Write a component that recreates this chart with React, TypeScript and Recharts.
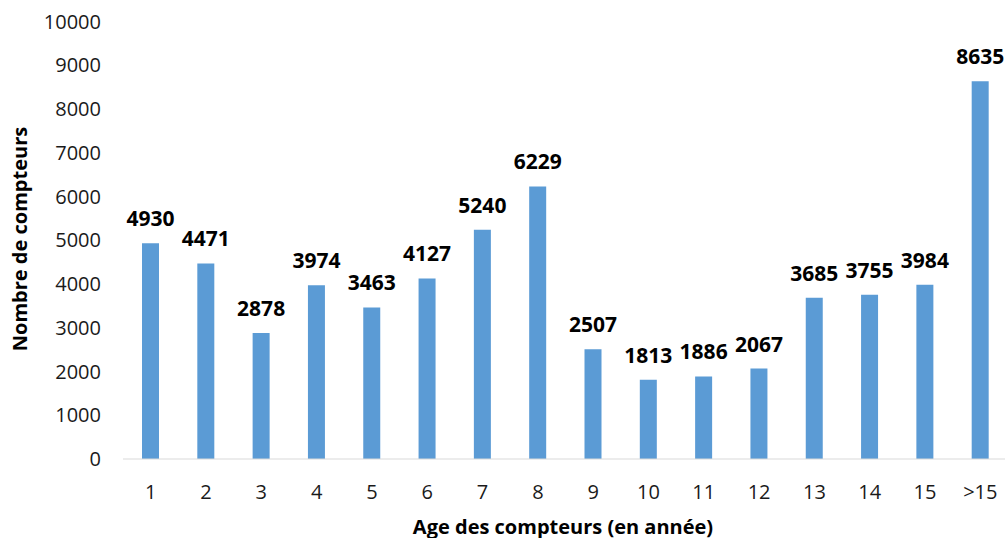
import React from 'react'
import { BarChart, Bar, XAxis, YAxis, LabelList, Label } from 'recharts'

const AGES = ['1', '2', '3', '4', '5', '6', '7', '8', '9', '10', '11', '12', '13', '14', '15', '>15']
const COUNTS = [4930, 4471, 2878, 3974, 3463, 4127, 5240, 6229, 2507, 1813, 1886, 2067, 3685, 3755, 3984, 8635]
const Y_TICKS = [0, 1000, 2000, 3000, 4000, 5000, 6000, 7000, 8000, 9000, 10000]

const X_TITLE = 'Age des compteurs (en année)'
const Y_TITLE = 'Nombre de compteurs'

const FONT = '"Open Sans", "Noto Sans", sans-serif'
const BAR_BLUE = '#5B9BD5'

const data = AGES.map((age, i) => ({ age, count: COUNTS[i] }))

export default function App() {
    return (
        <div style={{ position: 'absolute', left: 0, top: 0, width: 1005, height: 538, overflow: 'hidden', background: '#fff' }}>
            <BarChart
                width={1008}
                height={538}
                data={data}
                margin={{ top: 21.5, right: 0, left: 0, bottom: 0 }}
                style={{ fontFamily: FONT }}
            >
                {/* ── Axes ── */}
                <XAxis
                    dataKey="age"
                    height={79}
                    axisLine={{ stroke: '#d9d9d9', strokeWidth: 1 }}
                    tickLine={false}
                    tickSize={0}
                    tickMargin={26}
                    interval={0}
                    tick={{ fontSize: 20, fill: '#1a1a1a', fontFamily: FONT }}
                >
                    <Label
                        content={() => (
                            <text x={563} y={526} textAnchor="middle" dominantBaseline="central"
                                style={{ fontSize: 20, fontWeight: 700, fill: '#000', fontFamily: FONT }}>
                                {X_TITLE}
                            </text>
                        )}
                    />
                </XAxis>
                <YAxis
                    width={123}
                    domain={[0, 10000]}
                    ticks={Y_TICKS}
                    axisLine={false}
                    tickLine={false}
                    tickSize={0}
                    tickMargin={22}
                    interval={0}
                    tick={{ fontSize: 20, fill: '#1a1a1a', fontFamily: FONT }}
                >
                    <Label
                        content={() => (
                            <text x={19} y={239} transform="rotate(-90 19 239)" textAnchor="middle" dominantBaseline="central"
                                style={{ fontSize: 20, fontWeight: 700, fill: '#000', fontFamily: FONT }}>
                                {Y_TITLE}
                            </text>
                        )}
                    />
                </YAxis>

                {/* ── Bars ── */}
                <Bar dataKey="count" fill={BAR_BLUE} barSize={17} isAnimationActive={false}>
                    <LabelList
                        dataKey="count"
                        position="top"
                        offset={17}
                        style={{ fontSize: 21, fontWeight: 700, fill: '#000', fontFamily: FONT }}
                    />
                </Bar>
            </BarChart>
        </div>
    )
}
